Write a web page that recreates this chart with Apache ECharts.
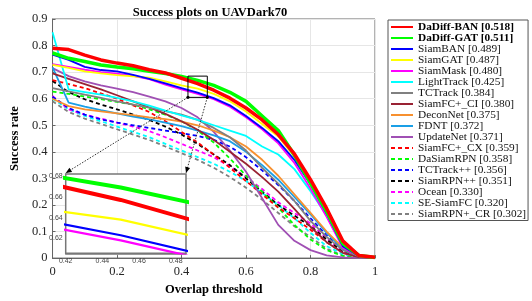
<!DOCTYPE html>
<html><head><meta charset="utf-8">
<script src="https://cdn.jsdelivr.net/npm/echarts@6/dist/echarts.min.js"></script>
<style>html,body{margin:0;padding:0;background:#fff}#c{width:532px;height:301px}</style>
</head><body><div id="c"></div>
<script>
// ---- data ----
const thresholds = [0, 0.05, 0.1, 0.15, 0.2, 0.25, 0.3, 0.35, 0.4, 0.45, 0.5, 0.55, 0.6, 0.65, 0.7, 0.75, 0.8, 0.85, 0.9, 0.95, 1];
const xTicks = [0, 0.2, 0.4, 0.6, 0.8, 1];
const yTicks = [0, 0.1, 0.2, 0.3, 0.4, 0.5, 0.6, 0.7, 0.8, 0.9];
const insetXTicks = [0.42, 0.44, 0.46, 0.48];
const insetYTicks = [0.62, 0.64, 0.66, 0.68];
const zoomX = [0.42, 0.48];
const zoomY = [0.605, 0.685];
const insetXRange = [0.42, 0.4856];
const insetYRange = [0.6056, 0.682];

const trackerNames = ['DaDiff-BAN [0.518]', 'DaDiff-GAT [0.511]', 'SiamBAN [0.489]', 'SiamGAT [0.487]', 'SiamMask [0.480]', 'LightTrack [0.425]', 'TCTrack [0.384]', 'SiamFC+_CI [0.380]', 'DeconNet [0.375]', 'FDNT [0.372]', 'UpdateNet [0.371]', 'SiamFC+_CX [0.359]', 'DaSiamRPN [0.358]', 'TCTrack++ [0.356]', 'SiamRPN++ [0.351]', 'Ocean [0.330]', 'SE-SiamFC [0.320]', 'SiamRPN+_CR [0.302]'];

const dadiffBAN = [0.790,0.785,0.764,0.746,0.734,0.724,0.709,0.697,0.677,0.657,0.632,0.602,0.565,0.520,0.465,0.392,0.295,0.187,0.065,0.010,0.003];
const dadiffGAT = [0.772,0.752,0.740,0.727,0.719,0.713,0.703,0.695,0.684,0.669,0.650,0.624,0.590,0.535,0.480,0.388,0.282,0.175,0.055,0.010,0.002];
const siamBAN   = [0.766,0.746,0.720,0.708,0.703,0.690,0.675,0.658,0.640,0.623,0.602,0.575,0.535,0.490,0.440,0.370,0.278,0.168,0.045,0.008,0.002];
const siamGAT   = [0.727,0.716,0.703,0.695,0.689,0.684,0.679,0.665,0.650,0.638,0.618,0.590,0.552,0.505,0.458,0.382,0.288,0.178,0.050,0.008,0.002];
const siamMask  = [0.730,0.720,0.709,0.700,0.694,0.686,0.674,0.653,0.635,0.618,0.598,0.570,0.530,0.485,0.432,0.358,0.262,0.155,0.040,0.007,0.002];
const lightTrack= [0.850,0.635,0.625,0.615,0.603,0.590,0.574,0.555,0.537,0.520,0.500,0.480,0.460,0.420,0.390,0.335,0.252,0.160,0.050,0.010,0.002];
const tcTrack   = [0.640,0.628,0.615,0.603,0.590,0.578,0.566,0.553,0.540,0.520,0.490,0.455,0.405,0.340,0.280,0.215,0.140,0.080,0.030,0.007,0.002];
const siamFCCI  = [0.695,0.675,0.655,0.635,0.613,0.590,0.567,0.543,0.515,0.483,0.445,0.400,0.355,0.305,0.250,0.185,0.118,0.060,0.020,0.004,0.001];
const deconNet  = [0.600,0.572,0.560,0.552,0.545,0.538,0.530,0.523,0.514,0.500,0.480,0.455,0.420,0.370,0.310,0.240,0.170,0.100,0.040,0.008,0.002];
const fdnt      = [0.718,0.585,0.570,0.557,0.545,0.533,0.522,0.510,0.497,0.480,0.462,0.440,0.400,0.350,0.295,0.230,0.165,0.095,0.035,0.007,0.002];
const updateNet = [0.715,0.685,0.665,0.650,0.638,0.625,0.608,0.590,0.565,0.530,0.475,0.405,0.325,0.225,0.125,0.065,0.030,0.010,0.003,0.001,0.000];
const siamFCCX  = [0.670,0.655,0.640,0.620,0.600,0.575,0.550,0.515,0.475,0.435,0.390,0.340,0.290,0.240,0.190,0.150,0.107,0.060,0.020,0.004,0.001];
const daSiamRPN = [0.627,0.618,0.608,0.598,0.588,0.578,0.560,0.540,0.515,0.480,0.435,0.375,0.310,0.250,0.190,0.125,0.070,0.030,0.008,0.002,0.000];
const tcTrackPP = [0.607,0.565,0.540,0.522,0.510,0.500,0.490,0.480,0.470,0.460,0.445,0.420,0.380,0.330,0.275,0.215,0.150,0.085,0.030,0.006,0.001];
const siamRPNPP = [0.667,0.625,0.598,0.578,0.560,0.540,0.520,0.495,0.465,0.430,0.390,0.350,0.300,0.250,0.200,0.160,0.120,0.070,0.025,0.005,0.001];
const ocean     = [0.610,0.560,0.540,0.525,0.510,0.495,0.478,0.455,0.430,0.405,0.380,0.345,0.305,0.260,0.210,0.170,0.130,0.075,0.025,0.005,0.001];
const seSiamFC  = [0.600,0.560,0.535,0.515,0.495,0.475,0.455,0.430,0.405,0.380,0.355,0.325,0.290,0.245,0.200,0.150,0.095,0.045,0.015,0.003,0.000];
const siamRPNCR = [0.590,0.550,0.525,0.505,0.485,0.465,0.445,0.420,0.395,0.370,0.340,0.305,0.265,0.220,0.170,0.120,0.080,0.035,0.010,0.002,0.000];

const seriesValues = [dadiffBAN, dadiffGAT, siamBAN, siamGAT, siamMask, lightTrack, tcTrack, siamFCCI, deconNet, fdnt, updateNet, siamFCCX, daSiamRPN, tcTrackPP, siamRPNPP, ocean, seSiamFC, siamRPNCR];

// ---- styles ----
const colors = ['#ff0000','#00ff00','#0000ff','#ffff00','#ff00ff','#00ffff','#808080','#992233','#f7902f','#1a9fe6','#a050b4','#ff0000','#00ff00','#0000ff','#000000','#ff00ff','#00ffff','#808080'];
const widths = [3.5,3.5,1.8,1.8,1.8,1.8,1.8,1.8,1.8,1.8,1.8,1.8,1.8,1.8,1.8,1.8,1.8,1.8];
const dashed = [false,false,false,false,false,false,false,false,false,false,false,true,true,true,true,true,true,true];

const serif = 'Liberation Serif, Times New Roman, serif';
const sans = 'Liberation Sans, Arial, sans-serif';

const chart = echarts.init(document.getElementById('c'), null, {renderer: 'canvas'});

const series = [];
for (let i = seriesValues.length - 1; i >= 0; i--) {
  const vals = seriesValues[i];
  series.push({
    type: 'line', name: trackerNames[i], xAxisIndex: 0, yAxisIndex: 0,
    data: thresholds.map((t, k) => [t, vals[k]]),
    symbol: 'none', silent: true, z: 3,
    lineStyle: {color: colors[i], width: widths[i], type: dashed[i] ? [4, 3] : 'solid'},
    itemStyle: {color: colors[i]}
  });
}
// inset copies
for (let i = seriesValues.length - 1; i >= 0; i--) {
  const vals = seriesValues[i];
  series.push({
    type: 'line', name: trackerNames[i], xAxisIndex: 1, yAxisIndex: 1,
    data: thresholds.map((t, k) => [t, vals[k]]),
    symbol: 'none', silent: true, z: 12, clip: true,
    lineStyle: {color: colors[i], width: i < 2 ? 4 : 2.2, type: dashed[i] ? [4, 3] : 'solid'},
    itemStyle: {color: colors[i]}
  });
}
// zoom rectangle
series.push({
  type: 'line', name: 'zoomBox', xAxisIndex: 0, yAxisIndex: 0, symbol: 'none', silent: true, z: 5,
  data: [[zoomX[0], zoomY[0]], [zoomX[1], zoomY[0]], [zoomX[1], zoomY[1]], [zoomX[0], zoomY[1]], [zoomX[0], zoomY[0]]],
  lineStyle: {color: '#000', width: 1}
});

const axisLabelMain = {fontFamily: serif, fontSize: 12.5, color: '#262626'};
const option = {
  animation: false,
  backgroundColor: '#fff',
  title: {
    text: 'Success plots on UAVDark70', left: 205, top: 1, textAlign: 'center',
    textStyle: {fontFamily: serif, fontSize: 12.5, fontWeight: 'bold', color: '#000'}
  },
  grid: [
    {left: 36, top: 19, width: 339, height: 248.7, show: true, borderColor: '#666', borderWidth: 1, backgroundColor: 'transparent'},
    {left: 65.7, top: 174, width: 120.3, height: 79.3, show: true, borderColor: '#777', borderWidth: 1.5, backgroundColor: '#fff', z: 10}
  ],
  legend: {
    orient: 'vertical', left: 388, top: 20, itemWidth: 22, itemHeight: 13.6, itemGap: 0,
    padding: [1.5, 2, 1, 2], borderColor: '#555', borderWidth: 1, backgroundColor: '#fff',
    itemStyle: {opacity: 0, borderWidth: 0},
    textStyle: {fontFamily: serif, fontSize: 11.3, color: '#111'}, selectedMode: false, z: 20,
    data: trackerNames.map((n, i) => i < 2 ? {name: n, textStyle: {fontWeight: 'bold', color: '#000'}} : n)
  },
  xAxis: [
    {type: 'value', gridIndex: 0, min: 0, max: 1, interval: 0.2,
     name: 'Overlap threshold', nameLocation: 'middle', nameGap: 21,
     nameTextStyle: {fontFamily: serif, fontSize: 12.5, fontWeight: 'bold', color: '#000'},
     axisLine: {show: true, lineStyle: {color: '#666'}},
     axisTick: {show: true, inside: true, length: 3, lineStyle: {color: '#666'}},
     axisLabel: Object.assign({margin: 7, formatter: v => String(+v.toFixed(1))}, axisLabelMain),
     splitLine: {show: true, lineStyle: {color: '#e6e6e6', width: 1}}},
    {type: 'value', gridIndex: 1, min: insetXRange[0], max: insetXRange[1],
     axisLine: {show: true, lineStyle: {color: '#777', width: 1.5}},
     axisTick: {show: true, inside: true, length: 2, customValues: insetXTicks, lineStyle: {color: '#777'}},
     axisLabel: {show: true, customValues: insetXTicks, margin: 4, fontFamily: sans, fontSize: 7, color: '#444', formatter: v => v.toFixed(2)},
     splitLine: {show: false}}
  ],
  yAxis: [
    {type: 'value', gridIndex: 0, min: 0, max: 0.9, interval: 0.1,
     name: 'Success rate', nameLocation: 'middle', nameGap: 26,
     nameTextStyle: {fontFamily: serif, fontSize: 12.5, fontWeight: 'bold', color: '#000'},
     axisLine: {show: true, lineStyle: {color: '#666'}},
     axisTick: {show: true, inside: true, length: 3, lineStyle: {color: '#666'}},
     axisLabel: Object.assign({margin: 5, formatter: v => String(+v.toFixed(1))}, axisLabelMain),
     splitLine: {show: true, lineStyle: {color: '#e6e6e6', width: 1}}},
    {type: 'value', gridIndex: 1, min: insetYRange[0], max: insetYRange[1],
     axisLine: {show: true, lineStyle: {color: '#777', width: 1.5}},
     axisTick: {show: true, inside: true, length: 2, customValues: insetYTicks, lineStyle: {color: '#777'}},
     axisLabel: {show: true, customValues: insetYTicks, margin: 3, fontFamily: sans, fontSize: 7, color: '#444', formatter: v => v.toFixed(2)},
     splitLine: {show: false}}
  ],
  series: series
};
chart.setOption(option);

// connector lines from zoom box to inset
const p1 = chart.convertToPixel({xAxisIndex: 0, yAxisIndex: 0}, [zoomX[0], zoomY[0]]);
const p2 = chart.convertToPixel({xAxisIndex: 0, yAxisIndex: 0}, [zoomX[1], zoomY[0]]);
const q1 = chart.convertToPixel({xAxisIndex: 1, yAxisIndex: 1}, [insetXRange[0], insetYRange[1]]);
const q2 = chart.convertToPixel({xAxisIndex: 1, yAxisIndex: 1}, [insetXRange[1], insetYRange[1]]);
function arrow(p, q) {
  const dx = q[0] - p[0], dy = q[1] - p[1];
  const L = Math.hypot(dx, dy); const ux = dx / L, uy = dy / L;
  const bx = q[0] - ux * 6, by = q[1] - uy * 6;
  return [[q[0], q[1]], [bx - uy * 2.5, by + ux * 2.5], [bx + uy * 2.5, by - ux * 2.5]];
}
const g = [];
[[p1, q1], [p2, q2]].forEach(([p, q]) => {
  g.push({type: 'line', z: 30, shape: {x1: p[0], y1: p[1], x2: q[0], y2: q[1] - 1}, style: {stroke: '#333', lineWidth: 1, lineDash: [1.5, 1.5]}});
  g.push({type: 'polygon', z: 30, shape: {points: arrow(p, [q[0], q[1] - 1])}, style: {fill: '#000'}});
  g.push({type: 'circle', z: 30, shape: {cx: p[0], cy: p[1], r: 1.6}, style: {fill: '#000'}});
});
chart.setOption({graphic: g});
</script>
</body></html>
